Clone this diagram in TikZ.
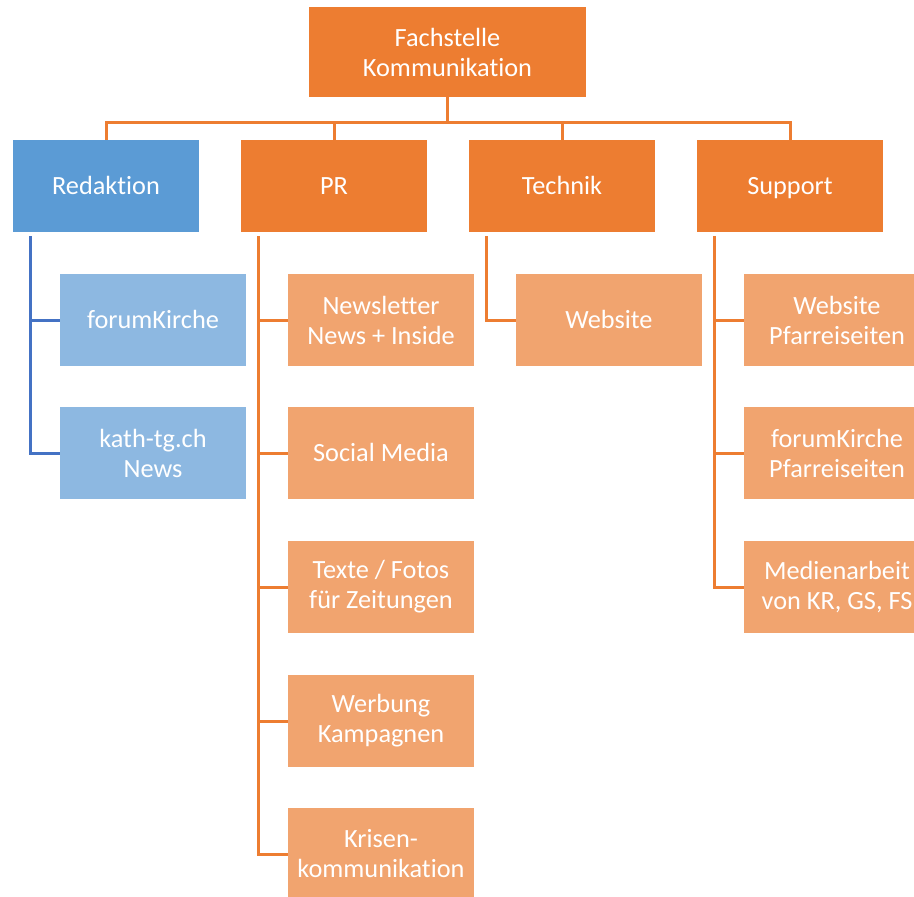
\documentclass[tikz,border=0pt]{standalone}
\usepackage{fontspec}
\setmainfont{Carlito}[Ligatures=NoCommon]
\definecolor{orng}{HTML}{ED7D31}
\definecolor{lorng}{HTML}{F1A46F}
\definecolor{blu}{HTML}{5B9BD5}
\definecolor{lblu}{HTML}{8DB8E1}
\definecolor{dblu}{HTML}{4472C4}
\tikzset{x=1pt, y=-1pt,
  box/.style={fill=#1, text=white, minimum width=186pt, minimum height=92pt,
    inner sep=0pt, align=center, font=\fontsize{26.3}{30}\selectfont},
  oneline/.style={text height=20pt, text depth=4pt},
  link/.style={draw=#1, line width=3pt}}

\begin{document}
\begin{tikzpicture}
\useasboundingbox (0,0) rectangle (914,897);
\clip (0,0) rectangle (914,897);
\node[box=orng, minimum width=277pt, minimum height=90pt] (fach) at (447.5,52) {Fachstelle\\Kommunikation};
\node[box=blu, oneline] (red) at (106,186) {Redaktion};
\node[box=orng, oneline] (pr) at (334,186) {PR};
\node[box=orng, oneline] (tech) at (562,186) {Technik};
\node[box=orng, oneline] (sup) at (790,186) {Support};
\foreach \c in {red,pr,tech,sup} % edit here for the top bus
\draw[link=orng] (fach.south) -- ++(0,25) -| (\c.north);
% Redaktion
\node[box=lblu, oneline] (fk) at (153,320) {forumKirche};
\node[box=lblu] (kath) at (153,453) {kath-tg.ch\\News};
% PR
\node[box=lorng] (news) at (381,320) {Newsletter\\News + Inside};
\node[box=lorng, oneline] (social) at (381,453) {Social Media};
\node[box=lorng] (texte) at (381,587) {Texte / Fotos\\für Zeitungen};
\node[box=lorng] (werb) at (381,721) {Werbung\\Kampagnen};
\node[box=lorng] (krise) at (381,854) {Krisen-\\kommunikation};
% Technik
\node[box=lorng, oneline] (web) at (609,320) {Website};
% Support
\node[box=lorng] (wpf) at (837,320) {Website\\Pfarreiseiten};
\node[box=lorng] (fkpf) at (837,453) {forumKirche\\Pfarreiseiten};
\node[box=lorng] (medien) at (837,587) {Medienarbeit\\von KR, GS, FS};
% edit here for the side lines
\foreach \c in {fk,kath}
\draw[link=dblu] ([xshift=18pt,yshift=-4pt]red.south west) |- (\c.west);
\foreach \c in {news,social,texte,werb,krise}
\draw[link=orng] ([xshift=18pt,yshift=-4pt]pr.south west) |- (\c.west);
\draw[link=orng] ([xshift=18pt,yshift=-4pt]tech.south west) |- (web.west);
\foreach \c in {wpf,fkpf,medien}
\draw[link=orng] ([xshift=18pt,yshift=-4pt]sup.south west) |- (\c.west);
\end{tikzpicture}
\end{document}
